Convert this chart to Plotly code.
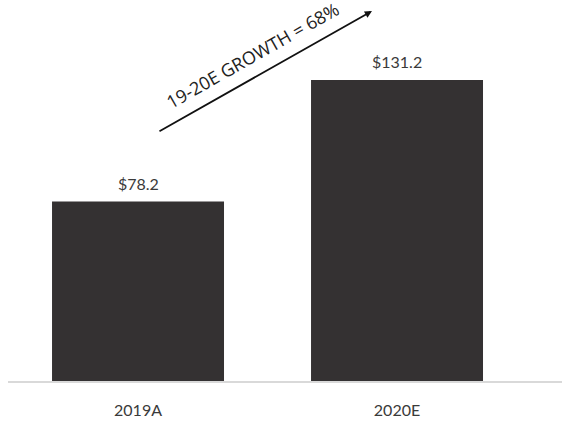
import plotly.graph_objects as go

categories = ["2019A", "2020E"]
values = [78.2, 131.2]
value_labels = ["$78.2", "$131.2"]
growth_text = "19-20E GROWTH = 68%"

fig = go.Figure()
fig.add_trace(go.Bar(
    x=categories, y=values,
    marker=dict(color="#343132", line=dict(width=0)),
    cliponaxis=False,
))

for c, v, t in zip(categories, values, value_labels):
    fig.add_annotation(
        x=c, y=v, text=t, showarrow=False, yanchor="bottom", yshift=7,
        font=dict(family="Lato", size=16, color="#3a3a3a"),
    )

# growth arrow
fig.add_annotation(
    xref="paper", yref="paper",
    x=0.657, y=0.971, ax=-214, ay=121,
    text="", showarrow=True, arrowhead=2, arrowsize=0.8,
    arrowwidth=1.8, arrowcolor="#111111",
)
fig.add_annotation(
    xref="paper", yref="paper", x=0.442, y=1.017,
    text=growth_text, showarrow=False, textangle=-29.5,
    font=dict(family="Open Sans", size=18, color="#222222"),
)

fig.update_layout(
    width=562, height=422,
    margin=dict(l=8, r=0, t=0, b=41),
    plot_bgcolor="white", paper_bgcolor="white",
    bargap=0.336, showlegend=False,
    xaxis=dict(
        range=[-0.502, 1.637], showgrid=False, zeroline=False,
        showline=True, linecolor="#d9d9d9", linewidth=1.5,
        ticks="", ticklabelstandoff=14,
        tickfont=dict(family="Lato", size=16, color="#3a3a3a"),
    ),
    yaxis=dict(range=[0, 166.1], visible=False),
)

fig.write_html("out.html")
